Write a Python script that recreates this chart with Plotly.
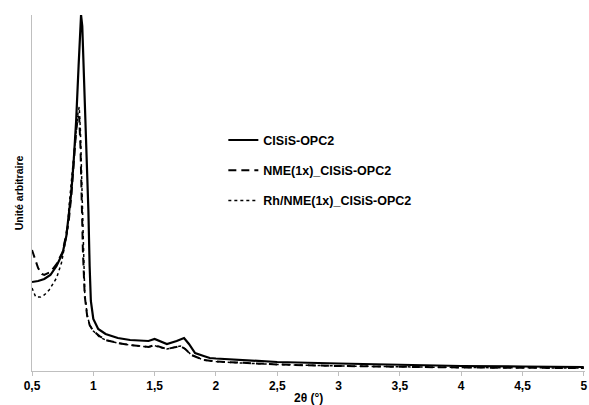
import plotly.graph_objects as go

# ---- data (arbitrary units) ----
x_cisis = [0.50, 0.55, 0.60, 0.65, 0.70, 0.75, 0.78, 0.80, 0.82, 0.84, 0.86, 0.88, 0.89, 0.90,
           0.91, 0.92, 0.935, 0.95, 0.96, 0.97, 0.98, 1.00, 1.04, 1.10, 1.20, 1.30, 1.45, 1.50,
           1.52, 1.60, 1.68, 1.74, 1.78, 1.83, 1.90, 1.95, 2.00, 2.20, 2.50, 3.00, 3.50, 4.00,
           4.50, 5.00]
y_cisis = [89, 90, 92, 96, 105, 118, 135, 155, 178, 210, 250, 305, 335, 356,
           345, 310, 260, 200, 160, 105, 70, 52, 42, 37, 33, 31, 30, 32,
           31, 27, 30, 33, 27, 18, 15, 13, 12.5, 11, 9, 7.5, 6, 5,
           4.5, 4]

x_nme = [0.50, 0.52, 0.55, 0.58, 0.60, 0.65, 0.70, 0.75, 0.80, 0.82, 0.84, 0.86, 0.875, 0.885,
         0.895, 0.905, 0.915, 0.93, 0.95, 0.97, 1.00, 1.05, 1.10, 1.20, 1.30, 1.45, 1.50, 1.52,
         1.60, 1.71, 1.75, 1.80, 1.90, 2.00, 2.20, 2.50, 3.00, 3.50, 4.00, 4.50, 5.00]
y_nme = [121, 113, 103, 97, 96, 99, 107, 119, 150, 175, 210, 240, 255, 253,
         225, 170, 120, 75, 55, 46, 40, 35, 31, 28, 26, 24, 26, 25,
         22, 25, 22, 16, 11, 9.5, 8, 6.5, 5, 4, 3.5, 3.2, 3]

x_rh = [0.50, 0.53, 0.57, 0.60, 0.64, 0.70, 0.74, 0.76, 0.79, 0.80, 0.82, 0.84, 0.86, 0.875,
        0.885, 0.895, 0.905, 0.915, 0.93, 0.95, 0.97, 1.00, 1.05, 1.10, 1.20, 1.30, 1.45, 1.50,
        1.52, 1.60, 1.71, 1.75, 1.80, 1.90, 2.00, 2.20, 2.50, 3.00, 3.50, 4.00, 4.50, 5.00]
y_rh = [83, 74, 74, 76, 81, 93, 108, 121, 141, 162, 190, 215, 240, 258,
        264, 240, 185, 130, 78, 56, 46, 40, 34, 31, 28, 26, 24, 25.5,
        24.5, 22, 25, 22, 16, 11, 9.5, 8, 6.5, 5, 4, 3.5, 3.2, 3]

series_names = ["CISiS-OPC2", "NME(1x)_CISiS-OPC2", "Rh/NME(1x)_CISiS-OPC2"]
tick_vals = [0.5, 1, 1.5, 2, 2.5, 3, 3.5, 4, 4.5, 5]
tick_text = ["0,5", "1", "1,5", "2", "2,5", "3", "3,5", "4", "4,5", "5"]
x_title = "2θ (°)"
y_title = "Unité arbitraire"

FONT = "Liberation Sans, Arial, sans-serif"

fig = go.Figure()
fig.add_trace(go.Scatter(x=x_cisis, y=y_cisis, mode="lines", name=series_names[0],
                         legendgroup="a", line=dict(color="black", width=2.2, dash="solid")))
fig.add_trace(go.Scatter(x=x_nme, y=y_nme, mode="lines", name=series_names[1],
                         legendgroup="b", line=dict(color="black", width=2, dash="8px,5px")))
fig.add_trace(go.Scatter(x=x_rh, y=y_rh, mode="lines", name=series_names[2],
                         legendgroup="c", line=dict(color="black", width=1.5, dash="dot")))

fig.update_layout(
    width=589, height=405,
    margin=dict(l=32, r=4, t=15, b=34, autoexpand=False),
    paper_bgcolor="white", plot_bgcolor="white",
    font=dict(family=FONT, size=12, color="black"),
    showlegend=True,
    legend=dict(x=0.346, y=0.69, xanchor="left", yanchor="top",
                bgcolor="rgba(0,0,0,0)", tracegroupgap=11, itemwidth=30,
                font=dict(family=FONT, size=12.5, color="black", weight="bold")),
    xaxis=dict(range=[0.5, 5.01], tickvals=tick_vals, ticktext=tick_text,
               showline=True, linecolor="#bfbfbf", linewidth=1,
               ticks="outside", ticklen=4, tickcolor="#bfbfbf",
               showgrid=False, zeroline=False, automargin=False,
               tickfont=dict(family=FONT, size=12, color="black", weight="bold")),
    yaxis=dict(range=[0, 356], showline=True, linecolor="#bfbfbf", linewidth=1,
               showticklabels=False, ticks="", showgrid=False, zeroline=False,
               automargin=False,
               title=dict(text=y_title, standoff=5,
                          font=dict(family=FONT, size=10.5, color="black", weight="bold"))),
    annotations=[dict(text=x_title, xref="paper", yref="paper", x=0.5, y=-0.077,
                      xanchor="center", yanchor="middle", showarrow=False,
                      font=dict(family=FONT, size=12, color="black", weight="bold"))],
)

# remove the browser's default 8px body margin so the figure fills the window
fig.write_html("out.html",
               config={"displayModeBar": False},
               post_script="document.body.style.margin='0';document.body.style.overflow='hidden';")
